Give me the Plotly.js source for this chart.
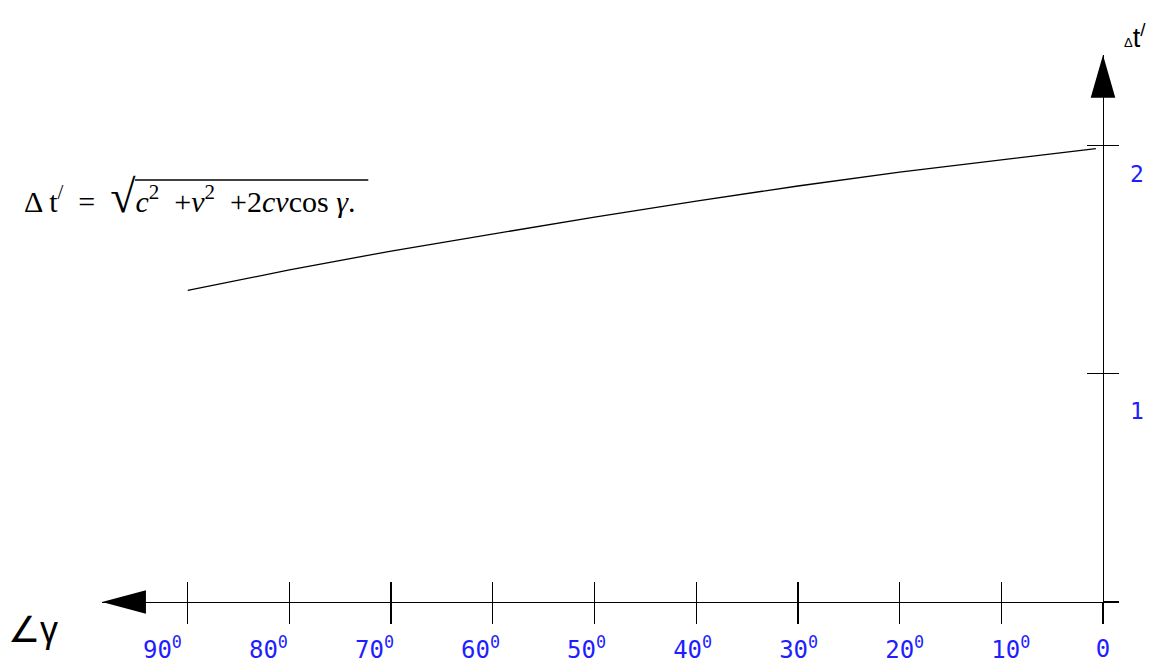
<!DOCTYPE html>
<html>
<head>
<meta charset="utf-8">
<script src="https://cdn.plot.ly/plotly-3.0.1.min.js"></script>
<style>html,body{margin:0;padding:0;background:#fff}#chart{width:1154px;height:664px}</style>
</head>
<body>
<div id="chart"></div>
<script>
// Angle gamma (degrees) and Δt' values
const angles = [90, 80, 70, 60, 50, 40, 30, 20, 10, 0.7];
const deltaT = [1.366, 1.455, 1.538, 1.613, 1.687, 1.757, 1.823, 1.884, 1.938, 1.987];

// Axis ticks and labels
const xTickVals = [0, 10, 20, 30, 40, 50, 60, 70, 80, 90];
const xLabelVals = [10, 20, 30, 40, 50, 60, 70, 80, 90];
const xLabelText = xLabelVals.map(v => v + '<sup>0</sup>');
const yTickVals = [0, 1, 2];
const yLabelVals = [1, 2];
const yLabelText = ['1', '2'];

const formulaText = 'Δ t<sup>/</sup>&nbsp;&nbsp;=&nbsp;&nbsp;<span style="font-size:46px">√</span><i>c</i><sup>2</sup>&nbsp;&nbsp;+<i>v</i><sup>2</sup>&nbsp;&nbsp;+2<i>cv</i>cos <i>γ</i>.';
const yTitleText = '<span style="font-size:13px">Δ</span>t<sup>/</sup>';
const xTitleText = '<span style="font-size:36px">∠</span><span style="font-size:36px">γ</span>';

const blue = 'rgb(30,30,255)';
const monoFont = {family: 'DejaVu Sans Mono', size: 24, color: blue};

const traces = [
  {x: angles, y: deltaT, type: 'scatter', mode: 'lines', line: {color: '#000', width: 1.3},
   xaxis: 'x', yaxis: 'y', showlegend: false, hoverinfo: 'skip'},
  {x: [50], y: [1], type: 'scatter', mode: 'markers', marker: {opacity: 0}, xaxis: 'x2', yaxis: 'y', showlegend: false, hoverinfo: 'skip'},
  {x: [50], y: [1], type: 'scatter', mode: 'markers', marker: {opacity: 0}, xaxis: 'x3', yaxis: 'y', showlegend: false, hoverinfo: 'skip'},
  {x: [50], y: [1], type: 'scatter', mode: 'markers', marker: {opacity: 0}, xaxis: 'x', yaxis: 'y2', showlegend: false, hoverinfo: 'skip'},
  {x: [50], y: [1], type: 'scatter', mode: 'markers', marker: {opacity: 0}, xaxis: 'x', yaxis: 'y3', showlegend: false, hoverinfo: 'skip'}
];

const xRange = [98.43, 0];
const yRange = [0, 2.397];

const layout = {
  width: 1154, height: 664,
  margin: {l: 102, r: 51, t: 55, b: 62},
  paper_bgcolor: '#fff', plot_bgcolor: '#fff',
  showlegend: false,
  xaxis: {
    range: xRange, showgrid: false, zeroline: false, showline: true, linecolor: '#000', linewidth: 1.3,
    ticks: 'outside', ticklen: 21, tickwidth: 1.3, tickcolor: '#000',
    tickmode: 'array', tickvals: xTickVals, ticktext: xTickVals.map(v => v === 0 ? '0' : ''),
    tickfont: monoFont, ticklabelstandoff: 4, anchor: 'y', automargin: false, fixedrange: true
  },
  xaxis2: {
    range: xRange, overlaying: 'x', anchor: 'y', side: 'bottom', showgrid: false, zeroline: false, showline: false,
    ticks: 'inside', ticklen: 20, tickwidth: 1.3, tickcolor: '#000',
    tickmode: 'array', tickvals: xTickVals, showticklabels: false, automargin: false
  },
  xaxis3: {
    range: [95.7, 1.3], overlaying: 'x', anchor: 'y', side: 'bottom', showgrid: false, zeroline: false, showline: false,
    ticks: '', tickmode: 'array', tickvals: xLabelVals, ticktext: xLabelText,
    tickfont: monoFont, ticklabelstandoff: 31, automargin: false
  },
  yaxis: {
    range: yRange, side: 'right', anchor: 'x', showgrid: false, zeroline: false, showline: true, linecolor: '#000', linewidth: 1.3,
    ticks: 'outside', ticklen: 15, tickwidth: 1.3, tickcolor: '#000',
    tickmode: 'array', tickvals: yTickVals, showticklabels: false, automargin: false, fixedrange: true
  },
  yaxis2: {
    range: yRange, overlaying: 'y', side: 'right', anchor: 'x', showgrid: false, zeroline: false, showline: false,
    ticks: 'inside', ticklen: 16, tickwidth: 1.3, tickcolor: '#000',
    tickmode: 'array', tickvals: yTickVals, showticklabels: false, automargin: false
  },
  yaxis3: {
    range: [0.195, 2.5], overlaying: 'y', side: 'right', anchor: 'x', showgrid: false, zeroline: false, showline: false,
    ticks: '', tickmode: 'array', tickvals: yLabelVals, ticktext: yLabelText,
    tickfont: {family: 'DejaVu Sans Mono', size: 23, color: blue}, ticklabelstandoff: 26, automargin: false
  },
  shapes: [
    {type: 'path', xref: 'paper', yref: 'paper', path: 'M0,0 L0.0439,0.0214 L0.0439,-0.0214 Z',
     fillcolor: '#000', line: {color: '#000', width: 0}},
    {type: 'path', xref: 'paper', yref: 'paper', path: 'M1,1 L1.0123,0.9219 L0.9877,0.9219 Z',
     fillcolor: '#000', line: {color: '#000', width: 0}},
    {type: 'line', xref: 'paper', yref: 'paper', x0: 0.033, x1: 0.266, y0: 0.7715, y1: 0.7715,
     line: {color: '#000', width: 1.3}}
  ],
  annotations: [
    {xref: 'paper', yref: 'paper', x: -0.0796, y: 0.742, xanchor: 'left', yanchor: 'middle', showarrow: false,
     text: formulaText, font: {family: 'Liberation Serif', size: 30, color: '#000'}},
    {xref: 'paper', yref: 'paper', x: 1.019, y: 1.035, xanchor: 'left', yanchor: 'middle', showarrow: false,
     text: yTitleText, font: {family: 'Liberation Sans', size: 27, color: '#000'}},
    {xref: 'paper', yref: 'paper', x: -0.0962, y: -0.0494, xanchor: 'left', yanchor: 'middle', showarrow: false,
     text: xTitleText, font: {family: 'Liberation Sans', size: 26, color: '#000'}}
  ]
};

Plotly.newPlot('chart', traces, layout, {staticPlot: true, displayModeBar: false});
</script>
</body>
</html>
